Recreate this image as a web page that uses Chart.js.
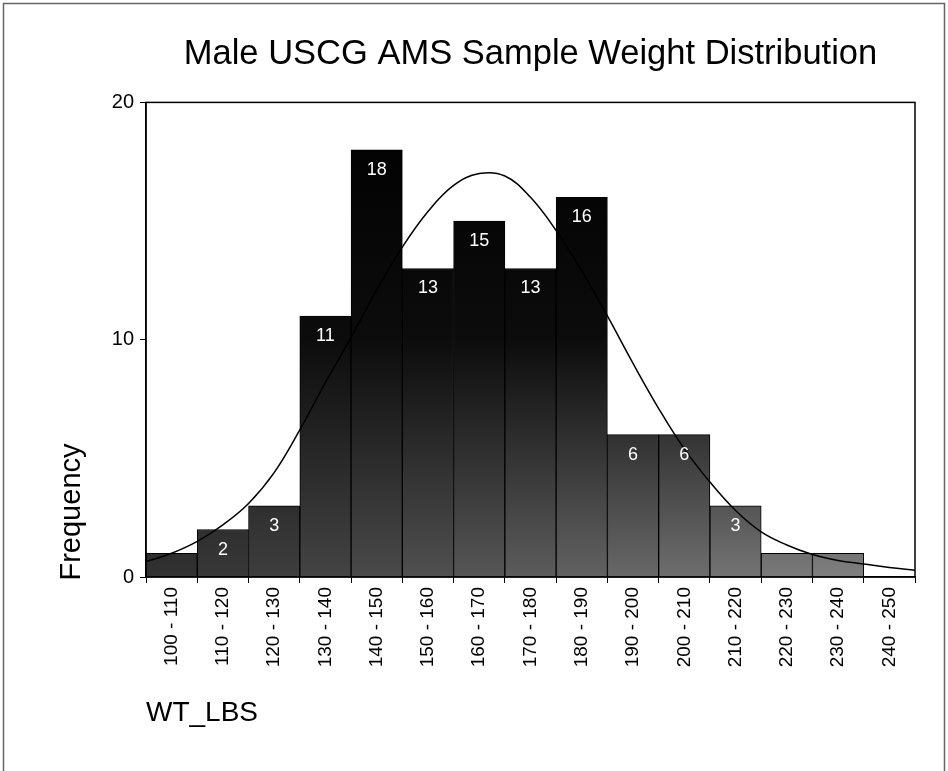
<!DOCTYPE html>
<html>
<head>
<meta charset="utf-8">
<script src="https://cdn.jsdelivr.net/npm/chart.js@4.4.1/dist/chart.umd.min.js"></script>
<style>
  html, body { margin: 0; padding: 0; background: #fff; }
  #wrap { width: 948px; height: 771px; }
</style>
</head>
<body>
<div id="wrap"><canvas id="histChart" width="948" height="771"></canvas></div>
<script>
/* data */
const bins = ["100 - 110", "110 - 120", "120 - 130", "130 - 140", "140 - 150", "150 - 160", "160 - 170",
  "170 - 180", "180 - 190", "190 - 200", "200 - 210", "210 - 220", "220 - 230", "230 - 240", "240 - 250"];
const counts = [1, 2, 3, 11, 18, 13, 15, 13, 16, 6, 6, 3, 1, 1, 0];

// normal curve (weight in lbs, frequency)
const curveWt = [100, 105, 110, 115, 120, 125, 130, 135, 140, 145, 150, 155, 160, 165, 170, 175,
  180, 185, 190, 195, 200, 205, 210, 215, 220, 225, 230, 235, 240, 245, 250];
const curveFreq = [0.65, 1.0, 1.5, 2.2, 3.1, 4.4, 6.2, 8.2, 10.1, 12.1, 13.9, 15.4, 16.5, 17.0, 16.9, 16.0,
  14.6, 12.9, 11.0, 9.0, 7.1, 5.4, 4.0, 2.8, 1.9, 1.35, 0.95, 0.7, 0.55, 0.4, 0.28];

const yTicks = [0, 10, 20];

const FONT = "'Liberation Sans', Arial, sans-serif";

/* gradient fill for bars: black at top, grey at the bottom (lighter to the right) */
function barFill(ctx) {
  const chart = ctx.chart;
  const area = chart.chartArea;
  if (!area) return "#000";
  const i = ctx.dataIndex || 0;
  const g = chart.ctx.createLinearGradient(0, area.top, 0, area.bottom);
  const low = 50 + i * 6;
  g.addColorStop(0, "#000");
  g.addColorStop(0.5, "#0c0c0c");
  g.addColorStop(1, "rgb(" + low + "," + low + "," + low + ")");
  return g;
}

/* page frame + plot frame + labels */
const extras = {
  id: "extras",
  beforeDraw(chart) {
    const c = chart.ctx;
    c.save();
    c.fillStyle = "#fff";
    c.fillRect(0, 0, chart.width, chart.height);
    c.strokeStyle = "#666";
    c.lineWidth = 1.5;
    c.beginPath();
    c.moveTo(3.5, 771);
    c.lineTo(3.5, 3.5);
    c.lineTo(944.5, 3.5);
    c.lineTo(944.5, 771);
    c.stroke();
    c.restore();
  },
  afterDatasetsDraw(chart) {
    const c = chart.ctx;
    const meta = chart.getDatasetMeta(0);
    c.save();
    c.fillStyle = "#fff";
    c.font = "18px " + FONT;
    c.textAlign = "center";
    c.textBaseline = "middle";
    meta.data.forEach((bar, i) => {
      if (counts[i] < 2) return;
      c.fillText(String(counts[i]), bar.x, bar.y + 20);
    });
    c.restore();
  },
  afterDraw(chart) {
    const c = chart.ctx;
    const a = chart.chartArea;
    c.save();
    c.strokeStyle = "#000";
    c.lineWidth = 1.5;
    c.strokeRect(a.left, a.top, a.right - a.left, a.bottom - a.top);
    // y axis title
    c.fillStyle = "#000";
    c.font = "29px " + FONT;
    c.textAlign = "center";
    c.textBaseline = "middle";
    c.translate(72, 512);
    c.rotate(-Math.PI / 2);
    c.fillText("Frequency", 0, 0);
    c.restore();
  }
};

new Chart(document.getElementById("histChart"), {
  type: "bar",
  data: {
    labels: bins,
    datasets: [
      {
        type: "bar",
        label: "Frequency",
        data: counts,
        backgroundColor: barFill,
        borderColor: "#000",
        borderWidth: 1,
        barPercentage: 1,
        categoryPercentage: 1,
        grouped: false,
        order: 2
      },
      {
        type: "line",
        label: "Normal",
        data: curveWt.map((w, i) => ({ x: w, y: curveFreq[i] })),
        xAxisID: "xc",
        borderColor: "#000",
        borderWidth: 1.5,
        pointRadius: 0,
        fill: false,
        tension: 0.4,
        order: 1
      }
    ]
  },
  options: {
    responsive: false,
    animation: false,
    layout: { padding: { left: 0, right: 33, top: 0, bottom: 40 } },
    plugins: {
      legend: { display: false },
      tooltip: { enabled: false },
      title: {
        display: true,
        fullSize: false,
        text: "Male USCG AMS Sample Weight Distribution",
        color: "#000",
        font: { family: FONT, size: 34.5, weight: "normal" },
        padding: { top: 34, bottom: 27 }
      }
    },
    scales: {
      x: {
        type: "category",
        offset: true,
        grid: { display: true, drawOnChartArea: false, drawTicks: true, tickLength: 6, color: "#000" },
        border: { display: true, color: "#000", width: 1.5 },
        ticks: {
          autoSkip: false,
          minRotation: 90,
          maxRotation: 90,
          padding: 4,
          color: "#000",
          font: { family: FONT, size: 19 }
        },
        title: {
          display: true,
          text: "WT_LBS",
          align: "start",
          color: "#000",
          font: { family: FONT, size: 28 },
          padding: { top: 0, bottom: 1 }
        },
        afterFit(scale) { scale.height = 154; }
      },
      xc: {
        type: "linear",
        display: false,
        offset: false,
        min: 100,
        max: 250
      },
      y: {
        min: 0,
        max: 20,
        afterBuildTicks(scale) { scale.ticks = yTicks.map(v => ({ value: v })); },
        grid: { display: true, drawOnChartArea: false, drawTicks: true, tickLength: 6, color: "#000" },
        border: { display: true, color: "#000", width: 1.5 },
        ticks: {
          padding: 6,
          color: "#000",
          font: { family: FONT, size: 20 }
        },
        afterFit(scale) { scale.width = 146; }
      }
    }
  },
  plugins: [extras]
});
</script>
</body>
</html>
